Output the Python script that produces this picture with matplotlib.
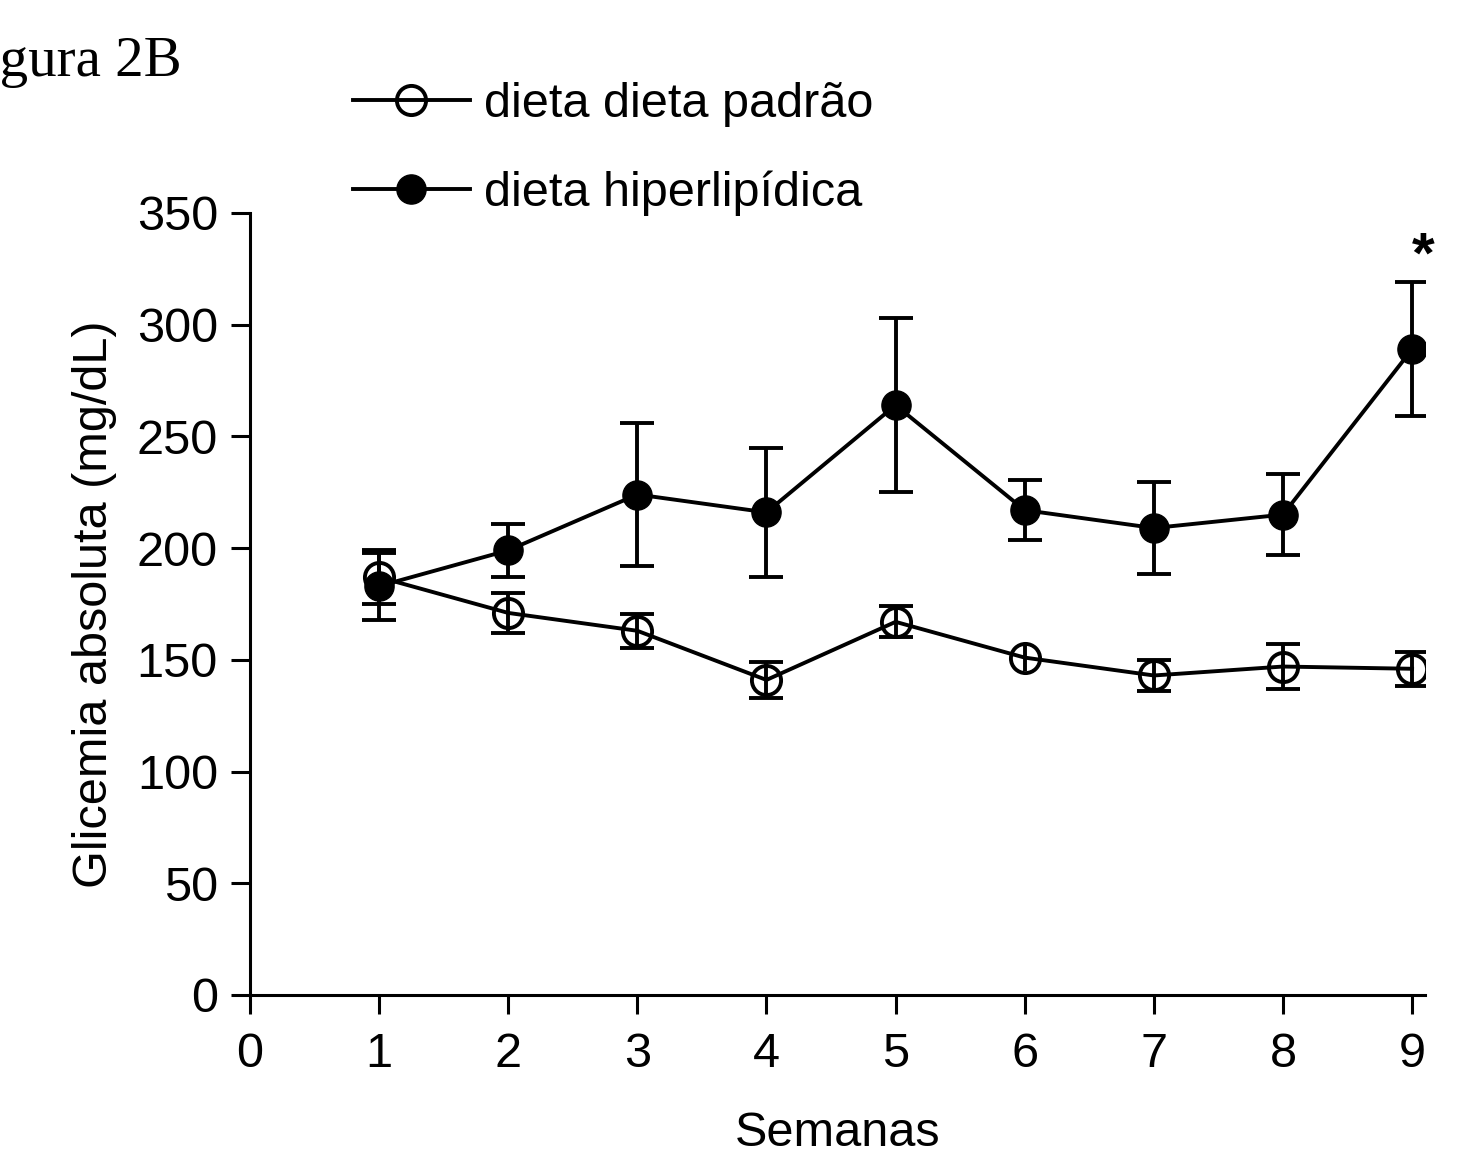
import matplotlib
matplotlib.use("Agg")
import matplotlib.pyplot as plt

# semanas
weeks = [1, 2, 3, 4, 5, 6, 7, 8, 9]

# dieta padrão (open circles)
padrao_mean = [187, 171, 163, 141, 167, 151, 143, 147, 146]
padrao_sem = [12, 9, 7.5, 8, 7, 6, 7, 10, 7.5]

# dieta hiperlipídica (filled circles)
hiper_mean = [183, 199, 224, 216, 264, 217, 209, 215, 289]
hiper_sem = [15, 12, 32, 29, 39, 13.5, 20.5, 18, 30]

y_ticks = [0, 50, 100, 150, 200, 250, 300, 350]
x_ticks = [0, 1, 2, 3, 4, 5, 6, 7, 8, 9]

plt.rcParams["font.family"] = ["Liberation Sans", "DejaVu Sans"]

fig = plt.figure(figsize=(14.65, 11.5), dpi=100)
ax = fig.add_axes([0.1706, 0.1348, 0.8021, 0.68])

lw = 2.8
ms = 21
cap = 12

# error bars first; week 6 of padrão has no caps (hidden by marker)
idx_caps = [i for i in range(len(weeks)) if i != 5]
ax.errorbar([weeks[i] for i in idx_caps], [padrao_mean[i] for i in idx_caps],
            yerr=[padrao_sem[i] for i in idx_caps], fmt="none", ecolor="black",
            elinewidth=lw, capsize=cap, capthick=lw, zorder=2)
ax.errorbar([weeks[5]], [padrao_mean[5]], yerr=[padrao_sem[5]], fmt="none",
            ecolor="black", elinewidth=lw, capsize=0, zorder=2)
ax.errorbar(weeks, hiper_mean, yerr=hiper_sem, fmt="none", ecolor="black",
            elinewidth=lw, capsize=cap, capthick=lw, zorder=2)

l1, = ax.plot(weeks, padrao_mean, color="black", lw=lw, marker="o", ms=ms,
              mfc="none", mec="black", mew=lw, zorder=3)
l2, = ax.plot(weeks, hiper_mean, color="black", lw=lw, marker="o", ms=ms,
              mfc="black", mec="black", zorder=4)

ax.text(9.09, 318, "*", ha="center", va="bottom", fontsize=42, fontweight="bold")

ax.set_xlim(0, 9.1)
ax.set_ylim(0, 350)
ax.set_xticks(x_ticks)
ax.set_yticks(y_ticks)
ax.spines["top"].set_visible(False)
ax.spines["right"].set_visible(False)
for s in ("left", "bottom"):
    ax.spines[s].set_linewidth(2.2)
ax.tick_params(direction="out", length=14, width=2.2, labelsize=35)
ax.tick_params(axis="y", pad=9)
ax.tick_params(axis="x", pad=13)
ax.set_xlabel("Semanas", fontsize=35, labelpad=24)
ax.set_ylabel("Glicemia absoluta (mg/dL)", fontsize=35, labelpad=14)

fig.legend([l1, l2], ["dieta dieta padrão", "dieta hiperlipídica"],
           loc="upper left", bbox_to_anchor=(0.241, 0.929), frameon=False,
           fontsize=35, handlelength=2.4, handletextpad=0.3, labelspacing=0.9,
           borderpad=0, borderaxespad=0)

fig.text(-0.0325, 0.934, "Figura 2B", fontsize=41, family="Liberation Serif",
         ha="left", va="baseline")

fig.savefig("out.png", dpi=100)
